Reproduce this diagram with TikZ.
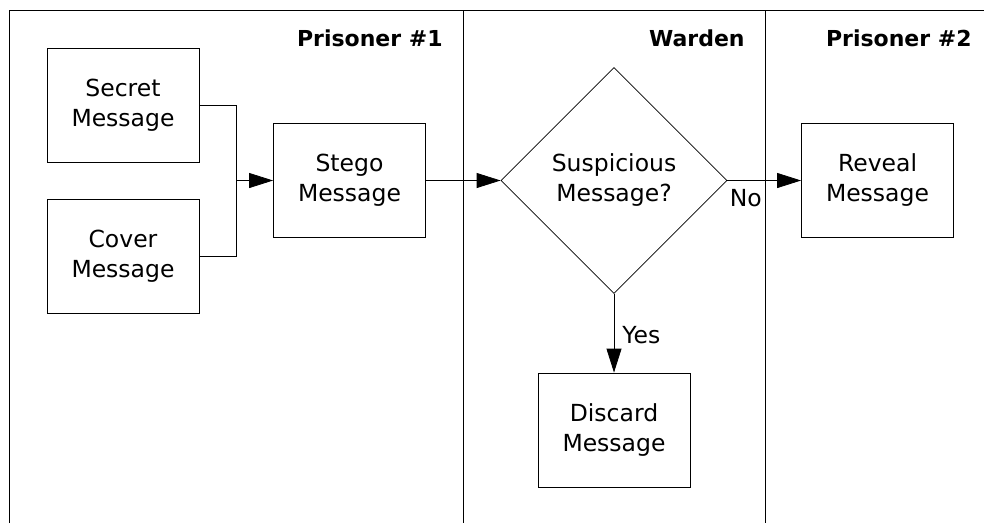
\documentclass[tikz,border=0pt]{standalone}
\usepackage{fontspec}
\setmainfont{DejaVu Sans}
\usetikzlibrary{shapes.geometric,arrows.meta}
\begin{document}
\begin{tikzpicture}[x=1pt,y=-1pt,
  line width=0.8pt,
  boxnode/.style={draw, rectangle, minimum width=152pt, minimum height=114pt, inner sep=0pt, align=center, font=\fontsize{23.5}{30}\selectfont},
  decnode/.style={draw, diamond, aspect=1, minimum width=226pt, minimum height=226pt, inner sep=0pt, align=center, font=\fontsize{23.5}{30}\selectfont},
  lanehead/.style={anchor=base east, inner sep=0pt, font=\fontsize{22}{26}\selectfont\bfseries},
  edgelabel/.style={inner sep=0pt, anchor=base west, font=\fontsize{23.5}{30}\selectfont},
  flowarrow/.style={-{Triangle[length=24pt,width=15pt]}}
]
\useasboundingbox (0,0) rectangle (984,523);
% lanes
\draw (9,523) -- (9,10) -- (984,10);
\draw (463,10) -- (463,523);
\draw (765,10) -- (765,523);
\node[lanehead] (h1) at (443,46) {Prisoner \#1};
\node[lanehead] (h2) at (745,46) {Warden};
\node[lanehead] (h3) at (972,46) {Prisoner \#2};
% nodes
\node[boxnode] (secret) at (123,105) {Secret\\Message};
\node[boxnode] (cover) at (123,256.5) {Cover\\Message};
\node[boxnode] (stego) at (349.5,180.5) {Stego\\Message};
\node[decnode] (dia) at (614,180.5) {Suspicious\\Message?};
\node[boxnode] (reveal) at (877.5,180.5) {Reveal\\Message};
\node[boxnode] (discard) at (614,430) {Discard\\Message};
\coordinate (j) at (236,180.5);
% connectors
\draw (secret.east) -| (j);
\draw (cover.east) -| (j);
\draw[flowarrow] (j) -- (stego.west);
\draw[flowarrow] (stego.east) -- (dia.west);
\draw[flowarrow] (dia.east) -- node[edgelabel, at start, xshift=2pt, yshift=-26pt] {No} (reveal.west);
\draw[flowarrow] (dia.south) -- node[edgelabel, at start, xshift=8pt, yshift=-50pt] {Yes} (discard.north);
\end{tikzpicture}
\end{document}
